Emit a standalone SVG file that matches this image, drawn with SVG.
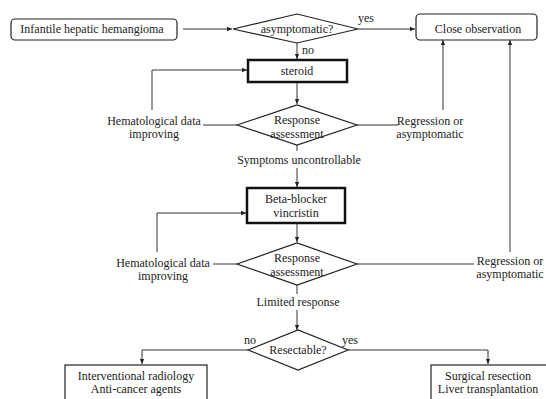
<svg xmlns="http://www.w3.org/2000/svg" width="546" height="399" viewBox="0 0 546 399" font-family="'Liberation Serif', 'Times New Roman', serif">
<defs>
<marker id="ah" viewBox="0 0 8 8" refX="7" refY="4" markerWidth="6" markerHeight="6" orient="auto" markerUnits="userSpaceOnUse">
<path d="M0,1 L7,4 L0,7 Z" fill="#222"/>
</marker>
<style>
text{font-family:"Liberation Serif","Times New Roman",serif;font-size:12px;fill:#222;text-anchor:middle}
.n{fill:#fff;stroke:#222;stroke-width:1.2}
.t{fill:#fff;stroke:#111;stroke-width:2.5}
.c{fill:none;stroke:#333;stroke-width:1}
.a{marker-end:url(#ah)}
</style>
</defs>
<rect width="546" height="399" fill="#fff"/>
<g id="connectors">
<path class="c a" d="M183,29 H232"/>
<path class="c a" d="M358,29 H415"/>
<path class="c a" d="M297,43 V59"/>
<path class="c a" d="M152,110 V70 H247"/>
<path class="c a" d="M297,83 V104"/>
<path class="c" d="M203,125 H237"/>
<path class="c" d="M357,125 H398"/>
<path class="c a" d="M443,110 V40"/>
<path class="c" d="M297,145 V151"/>
<path class="c a" d="M297,168 V187"/>
<path class="c a" d="M157,252 V213 H246"/>
<path class="c a" d="M297,223 V242"/>
<path class="c" d="M213,264 H237"/>
<path class="c" d="M357,264 H474"/>
<path class="c a" d="M510,252 V40"/>
<path class="c" d="M297,285 V294"/>
<path class="c a" d="M297,310 V330"/>
<path class="c a" d="M248,350 H142 V364"/>
<path class="c a" d="M348,350 H488 V364"/>
</g>
<g id="start">
<rect class="n" x="11" y="19" width="166" height="21" rx="4"/>
<text x="92" y="33">Infantile hepatic hemangioma</text>
</g>
<g id="asymptomatic">
<polygon class="n" points="233,29 297,14 358,29 297,43"/>
<text x="297" y="33">asymptomatic?</text>
<text x="366" y="22">yes</text>
<text x="308" y="54">no</text>
</g>
<g id="observation">
<rect class="n" x="416" y="14" width="121" height="26" rx="4"/>
<text x="478" y="33">Close observation</text>
</g>
<g id="steroid">
<rect class="t" x="248" y="60" width="99" height="22"/>
<text x="297" y="75">steroid</text>
</g>
<g id="response1">
<polygon class="n" points="237,125 297,105 357,125 297,145"/>
<text x="297" y="124">Response</text>
<text x="297" y="138">assessment</text>
</g>
<g id="hemato1">
<text x="154" y="125">Hematological data</text>
<text x="154" y="138">improving</text>
</g>
<g id="regress1">
<text x="430" y="125">Regression or</text>
<text x="430" y="138">asymptomatic</text>
</g>
<g id="symptoms">
<text x="299" y="164">Symptoms uncontrollable</text>
</g>
<g id="beta">
<rect class="t" x="247" y="188" width="98" height="35"/>
<text x="296" y="203">Beta-blocker</text>
<text x="296" y="217">vincristin</text>
</g>
<g id="response2">
<polygon class="n" points="237,264 297,243 357,264 297,285"/>
<text x="297" y="262">Response</text>
<text x="297" y="276">assessment</text>
</g>
<g id="hemato2">
<text x="163" y="267">Hematological data</text>
<text x="163" y="280">improving</text>
</g>
<g id="regress2">
<text x="510" y="265">Regression or</text>
<text x="510" y="278">asymptomatic</text>
</g>
<g id="limited">
<text x="298" y="306">Limited response</text>
</g>
<g id="resectable">
<polygon class="n" points="248,350 298,330 348,350 298,370"/>
<text x="298" y="354">Resectable?</text>
<text x="250" y="344">no</text>
<text x="350" y="344">yes</text>
</g>
<g id="interventional">
<rect class="n" x="65" y="365" width="142" height="40"/>
<text x="136" y="380">Interventional radiology</text>
<text x="136" y="393">Anti-cancer agents</text>
</g>
<g id="surgical">
<rect class="n" x="431" y="365" width="120" height="40"/>
<text x="488" y="380">Surgical resection</text>
<text x="488" y="393">Liver transplantation</text>
</g>
</svg>
